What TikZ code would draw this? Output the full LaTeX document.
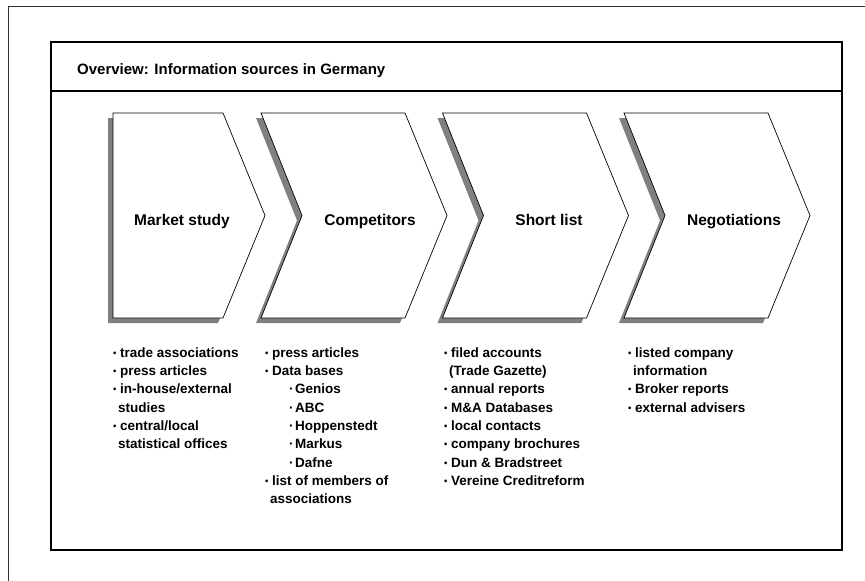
\documentclass[tikz,border=0pt]{standalone}
\usepackage{fontspec}
\setmainfont{Liberation Sans}

% list markers
\newcommand{\bl}{\makebox[7pt][l]{\raisebox{0.12ex}{\scalebox{0.7}{•}}}}
\newcommand{\sbl}{\hspace*{24pt}\makebox[6pt][l]{·}}
\newcommand{\cont}{\hspace*{5pt}}

\tikzset{
  outerframe/.style={line width=0.9pt, black!80},
  frame/.style={line width=1.3pt, black},
  chevbody/.style={fill=white, draw=black, line width=0.7pt, line join=miter},
  chevshadow/.style={fill=black!50, draw=none},
  chevlabel/.style={font=\bfseries\fontsize{15.5}{18}\selectfont, inner sep=0pt, anchor=base},
  titletext/.style={font=\bfseries\fontsize{15}{17}\selectfont, inner sep=0pt, anchor=west},
  srclist/.style={anchor=north west, inner sep=0pt, align=left,
    font=\bfseries\fontsize{13.5}{18.3}\selectfont},
}

\begin{document}
\begin{tikzpicture}[x=1pt,y=-1pt]
\useasboundingbox (0,0) rectangle (865,581);

% page frame and panel
\draw[outerframe] (8,581) -- (8,6) -- (865,6);
\draw[frame] (51,42) rectangle (842,550);
\draw[frame] (51,91) -- (842,91);
\node[titletext] (title) at (77,71) {Overview: Information sources in Germany};

% first step: straight left edge
\begin{scope}[shift={(-5,5)}]
  \fill[chevshadow] (113,113) -- (223,113) -- (265,215.5) -- (223,318) -- (113,318) -- cycle;
\end{scope}
\draw[chevbody] (113,113) -- (223,113) -- (265,215.5) -- (223,318) -- (113,318) -- cycle;

% following steps: notched chevrons
\foreach \T in {447,628.5,810}{
  \begin{scope}[shift={(-5,5)}]
    \fill[chevshadow] (\T-186,113) -- (\T-42,113) -- (\T,215.5) -- (\T-42,318)
      -- (\T-186,318) -- (\T-145,215.5) -- cycle;
  \end{scope}
  \draw[chevbody] (\T-186,113) -- (\T-42,113) -- (\T,215.5) -- (\T-42,318)
    -- (\T-186,318) -- (\T-145,215.5) -- cycle;
}

% step labels, on a common baseline
\node[chevlabel] (market) at (182,225.5) {Market study};
\node[chevlabel] (competitors) at (370,225.5) {Competitors};
\node[chevlabel] (shortlist) at (549,225.5) {Short list};
\node[chevlabel] (negotiations) at (734,225.5) {Negotiations};

% source lists (first baseline at y = 357)
\node[srclist] (srcmarket) at (113,344.2) {%
\strut\bl trade associations\\
\bl press articles\\
\bl in-house/external\\
\cont studies\\
\bl central/local\\
\cont statistical offices};

\node[srclist] (srccompetitors) at (265,344.2) {%
\strut\bl press articles\\
\bl Data bases\\
\sbl Genios\\
\sbl ABC\\
\sbl Hoppenstedt\\
\sbl Markus\\
\sbl Dafne\\
\bl list of members of\\
\cont associations};

\node[srclist] (srcshortlist) at (444,344.2) {%
\strut\bl filed accounts\\
\cont (Trade Gazette)\\
\bl annual reports\\
\bl M\&A Databases\\
\bl local contacts\\
\bl company brochures\\
\bl Dun \& Bradstreet\\
\bl Vereine Creditreform};

\node[srclist] (srcnegotiations) at (628,344.2) {%
\strut\bl listed company\\
\cont information\\
\bl Broker reports\\
\bl external advisers};

\end{tikzpicture}
\end{document}
